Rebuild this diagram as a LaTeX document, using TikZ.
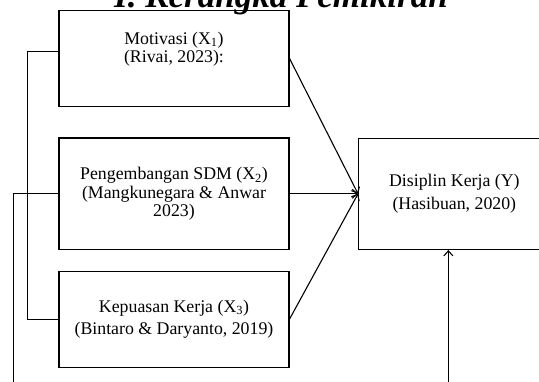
\documentclass[tikz,border=0pt]{standalone}
\usepackage{fontspec}
\setmainfont{Liberation Serif}
\usetikzlibrary{positioning, arrows.meta}

\begin{document}
\begin{tikzpicture}[
    x=1pt, y=1pt,
    >={Straight Barb[length=5pt,width=9pt]},
    line width=1.1pt,
    var/.style={
        draw,
        rectangle,
        minimum width=230pt,
        minimum height=96pt,
        align=center,
        inner sep=2pt,
        font=\fontsize{17.8}{18.5}\selectfont
    }
]
\useasboundingbox (0,0) rectangle (539,-382);

% title, cut by the page edge
\node[anchor=base, inner sep=0pt, font=\fontsize{35}{35}\selectfont\bfseries\itshape] (title) at (281,-7.5) {I. Kerangka Pemikiran};

% independent variables
\node[var] (x1) at (174,-58.5) {Motivasi (X\textsubscript{1})\\(Rivai, 2023):\\[4pt]};
\node[var, minimum height=111.6pt, below=30.4pt of x1] (x2) {Pengembangan SDM (X\textsubscript{2})\\(Mangkunegara \& Anwar\\2023)};
\node[var, below=20.4pt of x2, font=\fontsize{17.8}{22.5}\selectfont] (x3) {Kepuasan Kerja (X\textsubscript{3})\\(Bintaro \& Daryanto, 2019)};

% dependent variable
\node[var, minimum width=191.5pt, minimum height=111.4pt, right=68.5pt of x2, font=\fontsize{17.8}{23}\selectfont] (y) {Disiplin Kerja (Y)\\(Hasibuan, 2020)};

% connectors
\coordinate (base) at (13.7,-400);
\path[->]
(x1.east) edge (y.west)
(x2) edge (y)
(x3.east) edge (y.west);
\draw ([yshift=7pt]x1.west) -- ++(-31.3,0) |- (x3.west);
\draw[->] (x2.west) -| (base) -| ([xshift=-6pt]y.south);
\end{tikzpicture}
\end{document}
